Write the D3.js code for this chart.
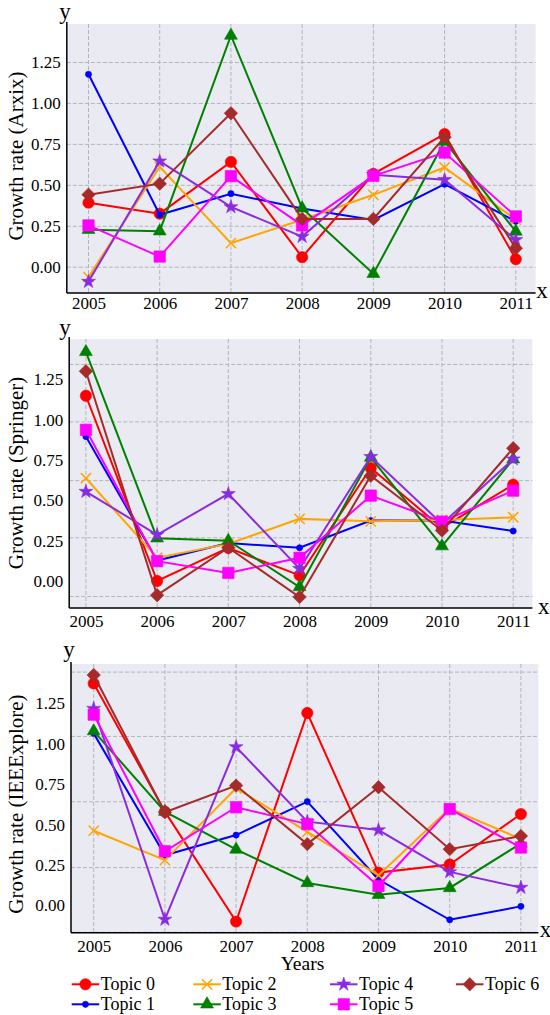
<!DOCTYPE html>
<html>
<head>
<meta charset="utf-8">
<script src="https://cdn.jsdelivr.net/npm/d3@7"></script>
<style>
  html, body { margin: 0; padding: 0; background: #ffffff; }
  svg { display: block; }
</style>
</head>
<body>
<svg id="chart" width="550" height="1015"></svg>
<script>
// ---------------- DATA ----------------
const years = [2005, 2006, 2007, 2008, 2009, 2010, 2011];
const topics = ["Topic 0", "Topic 1", "Topic 2", "Topic 3", "Topic 4", "Topic 5", "Topic 6"];
const yTickValues = [0, 0.25, 0.5, 0.75, 1.0, 1.25];

// Growth rate (Arxix), one row per topic
const arxivRates = [
  [0.394, 0.327, 0.643, 0.061, 0.570, 0.813, 0.049],  // Topic 0
  [1.178, 0.320, 0.449, 0.358, 0.289, 0.507, 0.280],  // Topic 1
  [-0.060, 0.613, 0.147, 0.290, 0.442, 0.609, 0.290], // Topic 2
  [0.229, 0.220, 1.415, 0.360, -0.040, 0.768, 0.218], // Topic 3
  [-0.088, 0.647, 0.368, 0.187, 0.564, 0.534, 0.167], // Topic 4
  [0.255, 0.065, 0.556, 0.255, 0.558, 0.700, 0.310],  // Topic 5
  [0.443, 0.510, 0.940, 0.295, 0.295, 0.794, 0.116]   // Topic 6
];
// Growth rate (Springer)
const springerRates = [
  [1.148, 0.000, 0.205, 0.035, 0.700, 0.330, 0.597],  // Topic 0
  [0.895, 0.127, 0.235, 0.206, 0.375, 0.375, 0.310],  // Topic 1
  [0.637, 0.144, 0.230, 0.385, 0.370, 0.378, 0.395],  // Topic 2
  [1.420, 0.265, 0.250, -0.037, 0.765, 0.216, 0.755], // Topic 3
  [0.554, 0.286, 0.540, 0.076, 0.770, 0.354, 0.755],  // Topic 4
  [0.937, 0.123, 0.050, 0.144, 0.529, 0.368, 0.560],  // Topic 5
  [1.300, -0.088, 0.206, -0.099, 0.652, 0.313, 0.823] // Topic 6
];
// Growth rate (IEEExplore)
const ieeeRates = [
  [1.373, 0.580, -0.100, 1.190, 0.203, 0.253, 0.565], // Topic 0
  [1.064, 0.310, 0.435, 0.642, 0.160, -0.089, -0.006],// Topic 1
  [0.462, 0.280, 0.725, 0.455, 0.186, 0.600, 0.410],  // Topic 2
  [1.078, 0.580, 0.346, 0.139, 0.066, 0.108, 0.383],  // Topic 3
  [1.217, -0.087, 0.980, 0.518, 0.466, 0.207, 0.110], // Topic 4
  [1.180, 0.335, 0.607, 0.503, 0.120, 0.596, 0.358],  // Topic 5
  [1.425, 0.576, 0.741, 0.379, 0.731, 0.348, 0.429]   // Topic 6
];
// horizontal grid lines as drawn in the original (offset from the tick labels)
const arxivGrid = [0, 0.25, 0.5, 0.75, 1.0, 1.25];
const springerGrid = [-0.096, 0.268, 0.622, 0.986, 1.342];
const ieeeGrid = [-0.166, 0.234, 0.641, 1.045, 1.443];

// ---------------- FONT PICK ----------------
function fontAvailable(name) {
  const c = document.createElement("canvas").getContext("2d");
  const s = "Growth rate (Arxix) 2005 WMil";
  const res = [];
  for (const fb of ["monospace", "sans-serif"]) {
    c.font = `40px ${fb}`;
    const w0 = c.measureText(s).width;
    c.font = `40px "${name}", ${fb}`;
    const w1 = c.measureText(s).width;
    res.push(Math.abs(w1 - w0) > 0.5);
  }
  return res[0] || res[1];
}
const serifCandidates = ["Liberation Serif", "Times New Roman", "Tinos", "Nimbus Roman", "Nimbus Roman No9 L",
  "TeX Gyre Termes", "FreeSerif", "DejaVu Serif", "Noto Serif", "Times"];
let FONT = "serif";
for (const f of serifCandidates) { if (fontAvailable(f)) { FONT = `"${f}", serif`; break; } }

// ---------------- STYLE / LAYOUT ----------------
const colors = ["#ff0000", "#0000ff", "#ffa500", "#008000", "#8a2be2", "#ff00ff", "#a52a2a"];
const markers = ["circle", "dot", "times", "triangle", "star", "square", "diamond"];

const panels = [
  { title: "Growth rate (Arxix)", data: arxivRates, grid: arxivGrid,
    left: 66.8, right: 535.6, top: 24, bottom: 293,
    x0: 88.5, x1: 515.8, y0: 267.2, y125: 62.5,
    titleY: 156, tickLabelY: 303, yLab: [64.9, 18.5], xLab: [541.9, 298] },
  { title: "Growth rate (Springer)", data: springerRates, grid: springerGrid,
    left: 69.2, right: 532.4, top: 339, bottom: 608,
    x0: 85.9, x1: 513.2, y0: 581, y125: 379.3,
    titleY: 473, tickLabelY: 621.5, yLab: [64.9, 335], xLab: [543.7, 614] },
  { title: "Growth rate (IEEExplore)", data: ieeeRates, grid: ieeeGrid,
    left: 71, right: 538.4, top: 664, bottom: 932.7,
    x0: 93.7, x1: 520.9, y0: 905.4, y125: 703.3,
    titleY: 804, tickLabelY: 946.5, yLab: [69.1, 657], xLab: [545.4, 937] }
];

const svg = d3.select("#chart").style("font-family", FONT);

function markerPath(type) {
  switch (type) {
    case "circle": return d3.symbol(d3.symbolCircle, 100)();
    case "dot": return d3.symbol(d3.symbolCircle, 30)();
    case "times": return d3.symbol(d3.symbolTimes, 70)();
    case "triangle": return d3.symbol(d3.symbolTriangle, 72)();
    case "star": return d3.symbol(d3.symbolStar, 60)();
    case "square": return d3.symbol(d3.symbolSquare, 130)();
    case "diamond": return d3.symbol(d3.symbolSquare, 90)();
  }
}
function drawMarker(g, type, color, x, y) {
  const p = g.append("path")
    .attr("d", markerPath(type))
    .attr("transform", `translate(${x},${y})` + (type === "diamond" ? " rotate(45)" : ""));
  if (type === "times") {
    p.attr("fill", "none").attr("stroke", color).attr("stroke-width", 1.5);
  } else {
    p.attr("fill", color).attr("stroke", color).attr("stroke-width", 0.6);
  }
}

panels.forEach(pn => {
  const g = svg.append("g");
  const x = d3.scaleLinear().domain([years[0], years[years.length - 1]]).range([pn.x0, pn.x1]);
  const y = d3.scaleLinear().domain([0, 1.25]).range([pn.y0, pn.y125]);

  // background
  g.append("rect")
    .attr("x", pn.left).attr("y", pn.top)
    .attr("width", pn.right - pn.left).attr("height", pn.bottom - pn.top)
    .attr("fill", "#eaeaf2");

  // grid
  g.selectAll(".vgrid").data(years).enter().append("line")
    .attr("x1", d => x(d)).attr("x2", d => x(d))
    .attr("y1", pn.top).attr("y2", pn.bottom)
    .attr("stroke", "#b4b4bc").attr("stroke-width", 1).attr("stroke-dasharray", "4,2");
  g.selectAll(".hgrid").data(pn.grid).enter().append("line")
    .attr("x1", pn.left).attr("x2", pn.right)
    .attr("y1", d => y(d)).attr("y2", d => y(d))
    .attr("stroke", "#b4b4bc").attr("stroke-width", 1).attr("stroke-dasharray", "4,2");

  // axes (no tick marks, labels only)
  const yAxis = d3.axisLeft(y).tickValues(yTickValues).tickFormat(d3.format(".2f")).tickSize(0).tickPadding(6);
  const ya = g.append("g").attr("transform", `translate(${pn.left},0)`).call(yAxis)
    .attr("font-family", FONT).attr("font-size", 17);
  ya.select(".domain").remove();
  ya.selectAll("text").attr("fill", "#000");

  const xAxis = d3.axisBottom(x).tickValues(years).tickFormat(d3.format("d")).tickSize(0).tickPadding(0);
  const xa = g.append("g").attr("transform", `translate(0,${pn.bottom})`).call(xAxis)
    .attr("font-family", FONT).attr("font-size", 17);
  xa.select(".domain").remove();
  xa.selectAll("text").attr("y", pn.tickLabelY - pn.bottom).attr("dy", "0.35em").attr("fill", "#000");

  g.append("line").attr("x1", pn.left).attr("x2", pn.left).attr("y1", pn.top - 2).attr("y2", pn.bottom)
    .attr("stroke", "#000").attr("stroke-width", 1.5);
  g.append("line").attr("x1", pn.left).attr("x2", pn.right).attr("y1", pn.bottom).attr("y2", pn.bottom)
    .attr("stroke", "#000").attr("stroke-width", 1.5);

  // axis letters
  g.append("text").attr("x", pn.yLab[0]).attr("y", pn.yLab[1]).attr("text-anchor", "middle")
    .attr("font-size", 23).text("y");
  g.append("text").attr("x", pn.xLab[0]).attr("y", pn.xLab[1]).attr("text-anchor", "middle")
    .attr("font-size", 23).text("x");

  // y title
  g.append("text")
    .attr("transform", `translate(23,${pn.titleY}) rotate(-90)`)
    .attr("text-anchor", "middle")
    .attr("font-size", 21)
    .text(pn.title);

  // series
  const line = d3.line().x((d, i) => x(years[i])).y(d => y(d));
  pn.data.forEach((vals, k) => {
    const sg = g.append("g");
    sg.append("path").datum(vals).attr("d", line)
      .attr("fill", "none").attr("stroke", colors[k]).attr("stroke-width", 2);
    vals.forEach((v, i) => drawMarker(sg, markers[k], colors[k], x(years[i]), y(v)));
  });
});

// x title
svg.append("text").attr("x", 302.5).attr("y", 969.5).attr("text-anchor", "middle")
  .attr("font-size", 19.5).text("Years");

// legend
const legendCols = [71.7, 193.3, 330, 456];
const legendRows = [984.3, 1004.3];
topics.forEach((t, k) => {
  const cx = legendCols[Math.floor(k / 2)];
  const cy = legendRows[k % 2];
  const lg = svg.append("g");
  lg.append("line").attr("x1", cx).attr("x2", cx + 27.5).attr("y1", cy).attr("y2", cy)
    .attr("stroke", colors[k]).attr("stroke-width", 2);
  drawMarker(lg, markers[k], colors[k], cx + 13.75, cy);
  lg.append("text").attr("x", cx + 29).attr("y", cy + 5.5)
    .attr("font-size", 18).text(t);
});
</script>
</body>
</html>
